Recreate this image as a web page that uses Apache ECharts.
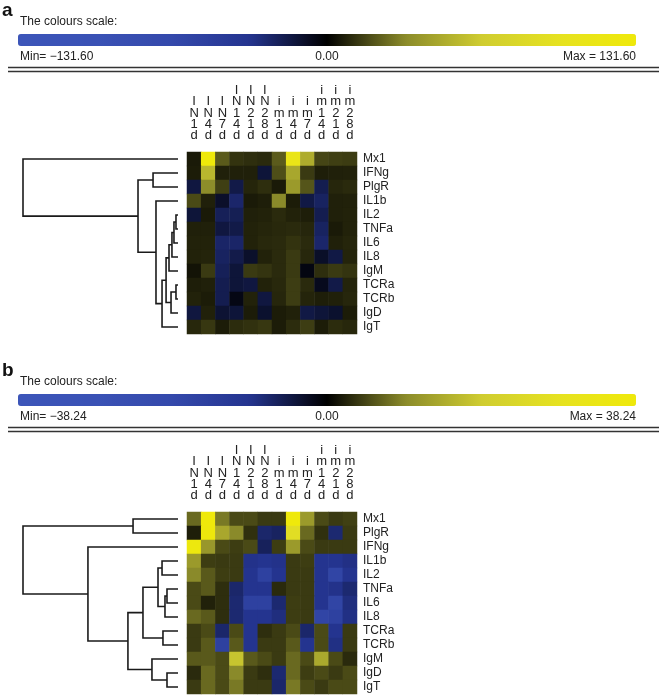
<!DOCTYPE html>
<html><head><meta charset="utf-8">
<script src="https://cdn.jsdelivr.net/npm/echarts@6/dist/echarts.min.js"></script>
<style>html,body{margin:0;padding:0;background:#fff}#c{width:659px;height:700px}</style>
</head><body><div id="c"></div>
<script>
// ---------- data ----------
const columns = ['IN1d','IN4d','IN7d','IN14d','IN21d','IN28d','im1d','im4d','im7d','im14d','im21d','im28d'];
const rowsA = ['Mx1','IFNg','PlgR','IL1b','IL2','TNFa','IL6','IL8','IgM','TCRa','TCRb','IgD','IgT'];
const rowsB = ['Mx1','PlgR','IFNg','IL1b','IL2','TNFa','IL6','IL8','TCRa','TCRb','IgM','IgD','IgT'];
const scaleA = [-131.60, 131.60];
const scaleB = [-38.24, 38.24];

const valuesA = [
  [6.2, 131.6, 21.5, 12.1, 10.9, 10.0, 21.7, 111.9, 50.0, 16.5, 15.0, 14.3],
  [6.6, 55.3, 7.6, 7.6, 7.6, -13.2, 18.6, 47.4, 13.8, 7.1, 7.6, 7.9],
  [-14.7, 34.2, 15.0, -16.6, 8.8, 10.9, 6.2, 40.8, 20.3, -18.4, 9.1, 10.0],
  [17.6, 7.6, -9.6, -24.3, 6.2, 7.2, 32.9, 6.6, -15.8, -22.1, 7.6, 7.9],
  [-13.2, 6.2, -20.3, -19.3, 7.6, 8.2, 10.0, 8.2, 7.1, -18.4, 7.6, 8.2],
  [7.6, 7.6, -14.7, -16.6, 8.2, 8.8, 9.5, 10.0, 9.1, -22.1, 6.2, 8.2],
  [8.2, 8.2, -23.7, -23.7, 8.2, 9.5, 10.0, 12.1, 10.0, -24.3, 7.6, 8.8],
  [8.2, 8.6, -22.1, -17.1, -9.9, 8.2, 10.0, 13.8, 9.2, -9.2, -15.8, 8.6],
  [4.6, 13.8, -20.3, -13.2, 13.8, 12.5, 10.0, 13.8, -3.9, 10.9, 13.8, 12.5],
  [7.1, 7.6, -18.4, -13.2, -14.7, 8.2, 9.5, 14.5, 10.0, -6.6, -16.6, 8.6],
  [8.2, 6.6, -18.4, -4.6, 8.2, -14.7, 9.1, 14.5, 8.6, 7.1, 7.6, 9.1],
  [-14.5, 7.9, -11.8, -13.2, 6.6, -10.5, 6.6, 7.9, -15.8, -13.2, -10.5, 6.6],
  [9.2, 13.2, 6.6, 10.5, 11.8, 13.2, 6.6, 10.5, 14.5, 6.6, 10.5, 9.2]
];
const valuesB = [
  [7.3, 38.24, 8.4, 5.1, 5.1, 4.0, 4.0, 38.0, 11.9, 5.1, 4.0, 4.4],
  [2.1, 37.5, 13.8, 9.6, 3.3, -7.1, -6.4, 26.4, 7.3, 3.3, -7.5, 4.0],
  [36.5, 11.5, 5.1, 4.2, 5.1, -6.1, 4.2, 11.9, 5.1, 4.0, 4.0, 4.0],
  [11.9, 4.2, 4.0, 4.0, -9.2, -9.6, -9.2, 4.0, 4.2, -9.6, -9.6, -8.9],
  [9.6, 6.2, 4.2, 4.0, -9.6, -15.3, -9.6, 4.0, 4.0, -9.6, -17.2, -9.6],
  [5.1, 6.2, 3.2, -7.1, -9.6, -9.6, 2.9, 4.0, 4.0, -9.6, -9.2, -7.5],
  [5.1, 2.3, 3.2, -7.5, -15.3, -15.3, -7.5, 4.2, 4.0, -9.6, -17.2, -8.4],
  [7.3, 6.2, 3.2, -7.5, -9.6, -9.6, -8.4, 4.2, 4.0, -17.2, -15.3, -8.8],
  [4.0, 5.1, -7.1, 5.1, -9.6, 3.2, 4.0, 5.1, -7.1, 5.1, -9.6, 4.0],
  [4.0, 6.2, -15.3, 6.2, -9.6, 4.0, 4.0, 6.2, -9.6, 5.1, -8.8, 4.0],
  [6.2, 6.2, 5.1, 18.0, 6.2, 5.1, 4.0, 7.3, 5.1, 14.0, 5.1, 2.9],
  [2.9, 7.3, 5.1, 9.6, 4.0, 3.2, -7.5, 7.3, 4.2, 5.1, 4.0, 5.1],
  [4.0, 7.3, 5.1, 8.4, 4.0, 4.0, -7.1, 8.4, 5.1, 4.0, 5.1, 5.1]
];

// linkage: [childA, childB, height]; ids 0..12 are rows, merged nodes get ids 13, 14, ...
const linkA = [
  [4, 5, 0.013], [13, 6, 0.026], [14, 7, 0.039], [15, 8, 0.058],
  [9, 10, 0.013], [17, 11, 0.045], [16, 18, 0.077], [19, 12, 0.103],
  [3, 20, 0.142], [1, 2, 0.161], [22, 21, 0.258], [0, 23, 1.0]
];
const linkB = [
  [3, 4, 0.103], [5, 6, 0.071], [14, 7, 0.084], [13, 15, 0.129],
  [8, 9, 0.097], [16, 17, 0.226], [11, 12, 0.071], [10, 19, 0.168],
  [18, 20, 0.323], [2, 21, 0.581], [0, 1, 0.290], [23, 22, 1.0]
];

// ---------- helpers ----------
function dendroLines(link, nLeaves) {
  const h = [], y = [];
  for (let i = 0; i < nLeaves; i++) { h[i] = 0; y[i] = i; }
  const out = [];
  link.forEach((m, k) => {
    const id = nLeaves + k, a = m[0], b = m[1], ht = m[2];
    h[id] = ht; y[id] = (y[a] + y[b]) / 2;
    out.push({coords: [[h[a], y[a]], [ht, y[a]], [ht, y[b]], [h[b], y[b]]]});
  });
  return out;
}
function heatData(vals) {
  const d = [];
  vals.forEach((row, r) => row.forEach((v, c) => d.push([c, r, v])));
  return d;
}
const fmt = v => (v < 0 ? '\u2212' : '') + Math.abs(v).toFixed(2);

const FONT = 'Liberation Sans, Arial, sans-serif';
const TXT = '#222';
const colorStops = ['#3c55b9', '#3a52b5', '#3449ab', '#24348f', '#000000', '#8a8a2a', '#cfcc30', '#e6e220', '#efe90a'];

const OFF = 360; // vertical offset of panel b
function panelGraphics(label, scale, dy) {
  return [
    {type: 'text', left: 2, top: 1 + dy, style: {text: label, font: 'bold 19px ' + FONT, fill: '#111'}},
    {type: 'text', left: 20, top: 16 + dy, style: {text: 'The colours scale:', font: '12px ' + FONT, fill: TXT}},
    {type: 'text', left: 20, top: 51 + dy, style: {text: 'Min= ' + fmt(scale[0]), font: '12px ' + FONT, fill: TXT}},
    {type: 'text', x: 327, y: 51 + dy, style: {text: fmt(0), font: '12px ' + FONT, fill: TXT, align: 'center'}},
    {type: 'text', x: 636, y: 51 + dy, style: {text: 'Max = ' + fmt(scale[1]), font: '12px ' + FONT, fill: TXT, align: 'right'}},
    {type: 'line', shape: {x1: 8, y1: 67.5 + dy, x2: 659, y2: 67.5 + dy}, style: {stroke: '#333', lineWidth: 1.5}},
    {type: 'line', shape: {x1: 8, y1: 71.5 + dy, x2: 659, y2: 71.5 + dy}, style: {stroke: '#333', lineWidth: 1.5}}
  ];
}

const GT = [152, 152 + OFF];
const GH = 182;
const grids = [], xAxes = [], yAxes = [], series = [], vms = [];
[[rowsA, valuesA, linkA, scaleA], [rowsB, valuesB, linkB, scaleB]].forEach((p, i) => {
  const [rows, vals, link, scale] = p;
  const top = GT[i];
  grids.push({left: 23, top: top, width: 155, height: GH});
  grids.push({left: 187, top: top, width: 170, height: GH});
  const gD = 2 * i, gH = 2 * i + 1;
  xAxes.push({gridIndex: gD, type: 'value', min: 0, max: 1, inverse: true, show: false});
  yAxes.push({gridIndex: gD, type: 'value', min: -0.5, max: rows.length - 0.5, inverse: true, show: false});
  xAxes.push({gridIndex: gH, type: 'category', data: columns, position: 'top',
    axisLine: {show: false}, axisTick: {show: false}, splitLine: {show: false},
    axisLabel: {interval: 0, margin: 11, fontSize: 13, lineHeight: 11.2, color: TXT, fontFamily: FONT,
      formatter: s => s.split('').join('\n')}});
  yAxes.push({gridIndex: gH, type: 'category', data: rows, inverse: true, position: 'right',
    axisLine: {show: false}, axisTick: {show: false}, splitLine: {show: false},
    axisLabel: {interval: 0, margin: 6, fontSize: 12, color: TXT, fontFamily: FONT}});
  series.push({type: 'lines', coordinateSystem: 'cartesian2d', xAxisIndex: gD, yAxisIndex: gD,
    polyline: true, silent: true, lineStyle: {color: '#1a1a1a', width: 1.6, opacity: 1},
    data: dendroLines(link, rows.length)});
  series.push({type: 'heatmap', xAxisIndex: gH, yAxisIndex: gH, data: heatData(vals),
    silent: true, emphasis: {disabled: true}, itemStyle: {borderWidth: 0}});
  vms.push({type: 'continuous', seriesIndex: 2 * i + 1, dimension: 2, min: scale[0], max: scale[1],
    orient: 'horizontal', left: 18, top: 34 + (i ? OFF : 0), itemWidth: 12, itemHeight: 618,
    padding: 0, calculable: false, hoverLink: false, realtime: false,
    inRange: {color: colorStops}, textStyle: {color: TXT}});
});

const chart = echarts.init(document.getElementById('c'), null, {renderer: 'canvas'});
chart.setOption({
  animation: false,
  backgroundColor: '#fff',
  grid: grids, xAxis: xAxes, yAxis: yAxes, series: series, visualMap: vms,
  graphic: panelGraphics('a', scaleA, 0).concat(panelGraphics('b', scaleB, OFF))
});
</script></body></html>
